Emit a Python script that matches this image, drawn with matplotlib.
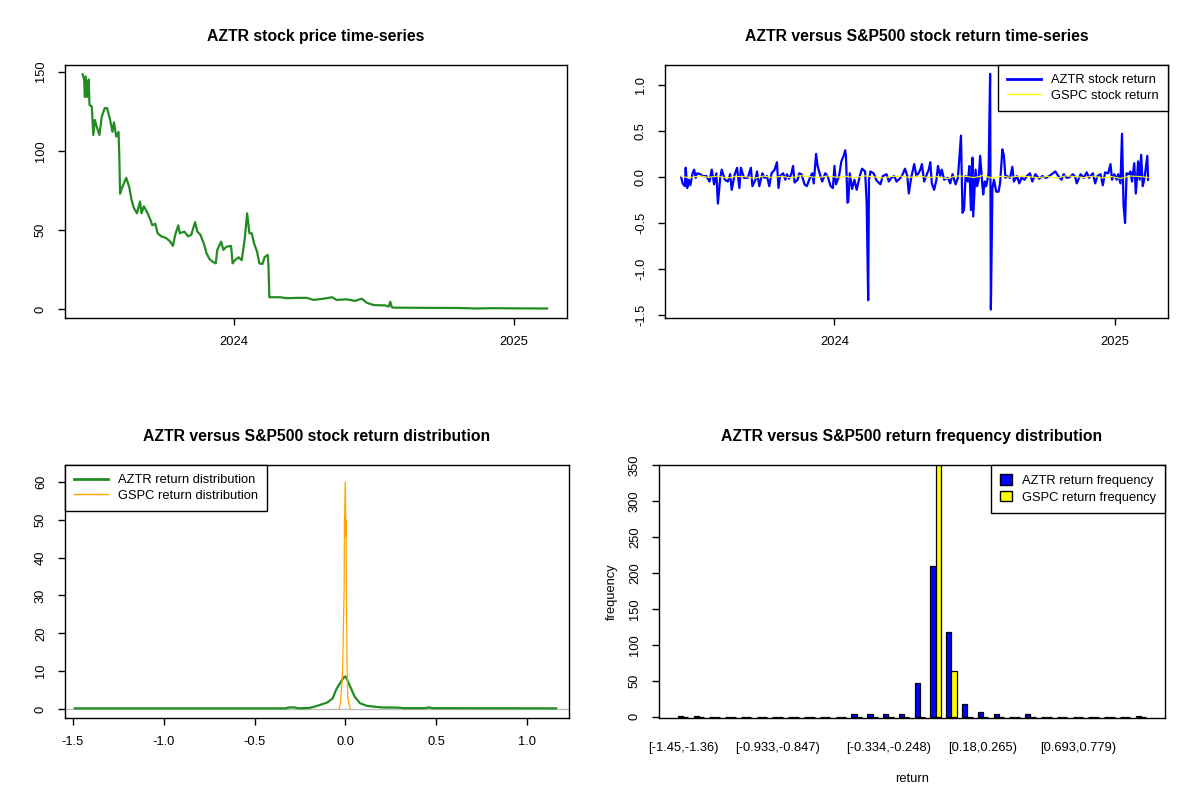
import numpy as np
import pandas as pd
import matplotlib
matplotlib.use('Agg')
import matplotlib.pyplot as plt
from matplotlib.patches import Patch
from matplotlib.lines import Line2D

plt.rcParams['font.family'] = ['Liberation Sans', 'DejaVu Sans']

#-----
# data (days counted from 2024-01-01)
price_day = [-198, -196, -195, -194, -192, -190, -189, -186, -184, -182, -180, -176, -173, -169,
             -166, -162, -159, -157, -154, -151, -150, -149, -147, -144, -141, -137, -134, -131,
             -127, -123, -121, -118, -113, -109, -107, -103, -100, -95, -89, -84, -80, -77, -73,
             -71, -65, -60, -56, -51, -48, -44, -39, -36, -32, -28, -24, -22, -17, -14, -10, -4,
             -2, 1, 6, 10, 14, 17, 20, 23, 26, 30, 33, 37, 40, 44, 45, 46, 60, 69, 82, 95, 104,
             117, 128, 134, 147, 158, 167, 173, 182, 191, 197, 202, 204, 206, 208, 252, 296, 317,
             339, 361, 383, 409]
price_val = [148.3, 145, 134, 147, 134, 145, 129, 128, 110, 119.5, 116, 110, 121.6, 127,
             127, 119.5, 112, 118, 109, 112, 96, 73, 76, 79.5, 83, 77, 69, 64,
             60.6, 68, 60.6, 65, 60.6, 56, 53, 54, 48, 46, 45, 43, 40, 47, 53,
             48, 49, 46, 47, 55, 49, 47, 40.6, 35.3, 31.6, 30, 29, 37.5, 42.7, 37.5, 39.5, 40,
             29, 31, 32.8, 31, 45, 60.6, 48, 48, 41.7, 36.4, 29, 28.6, 33, 34.3, 26, 7.6, 7.6, 7, 7.2, 7.2, 5.9,
             6.7, 7.6, 5.9, 6.3, 5.3, 6.7, 4.2, 2.7, 2.5, 2.5, 1.7, 4.8, 1.3, 1.05, 0.9, 0.8, 0.5,
             0.7, 0.6, 0.55, 0.5]

ret_day = [-200, -198, -195, -194, -192, -190, -188, -185, -183, -181, -179, -175, -172, -167,
           -163, -160, -157, -154, -152, -149, -147, -143, -139, -136, -134, -130, -127, -124,
           -122, -118, -113, -109, -107, -103, -101, -98, -94, -91, -88, -85, -82, -78, -75,
           -73, -71, -67, -64, -62, -59, -56, -54, -52, -48, -46, -43, -39, -36, -32, -29,
           -27, -24, -22, -19, -16, -12, -9, -5, -2, 0, 2, 6, 9, 12, 14, 15, 17, 18, 20, 23,
           26, 29, 33, 36, 40, 42, 44, 45, 47, 51, 55, 60, 63, 68, 71, 74, 78, 81, 86, 89, 92,
           95, 97, 100, 104, 107, 109, 112, 114, 117, 121, 123, 125, 127, 130, 133, 135, 138,
           140, 143, 148, 151, 154, 158, 161, 165, 167, 169, 171, 174, 176, 178, 180, 181, 184,
           186, 188, 190, 193, 194, 196, 198, 201, 203, 204, 206, 208, 211, 214, 216, 219, 221,
           223, 225, 229, 232, 234, 238, 241, 244, 248, 251, 255, 258, 262, 267, 271, 276, 280,
           285, 288, 292, 296, 299, 303, 307, 311, 314, 316, 321, 325, 329, 332, 337, 340, 343,
           347, 350, 353, 357, 360, 362, 365, 368, 370, 373, 375, 377, 379, 381, 384, 386, 388,
           391, 393, 395, 396, 398, 400, 402, 404, 405, 408, 409]
aztr_ret = [0.00, -0.07, -0.10, 0.10, -0.12, -0.03, -0.09, 0.04, 0.08, -0.01, 0.04, 0.03, 0.01, 0.01,
            -0.05, 0.08, -0.08, 0.04, -0.29, -0.01, 0.08, -0.03, -0.05, 0.03, -0.14, 0.03, 0.10, -0.12,
            0.10, -0.01, -0.01, 0.10, -0.10, -0.03, 0.06, -0.10, 0.04, -0.01, 0.01, -0.10, 0.04, 0.08, 0.16,
            -0.12, 0.01, 0.04, -0.03, 0.03, -0.02, 0.04, 0.12, -0.06, -0.03, 0.04, 0.03, -0.08, -0.10, -0.01, 0.04,
            -0.07, 0.25, 0.12, 0.03, -0.05, 0.04, 0.01, -0.10, -0.12, 0.12, -0.08, 0.01, 0.17, 0.23, 0.29, 0.23, -0.28, -0.27, 0.04, -0.13,
            -0.03, -0.14, 0.01, 0.09, 0.06, -0.28, -1.34, -0.03, 0.06, 0.04, -0.04, -0.08, 0.01, 0.03, -0.05, -0.01, 0.01, -0.05, -0.01, 0.03, 0.09,
            0.01, -0.18, -0.01, 0.14, 0.01, 0.03, 0.08, 0.14, -0.05, 0.04, 0.08, 0.16, -0.07, -0.14, -0.03, 0.12, 0.01,
            0.08, -0.03, -0.01, -0.07, 0.03, -0.08, -0.01, 0.45, -0.39, -0.36, 0.01, -0.05, 0.12, -0.36, 0.21, -0.43, 0.08,
            -0.10, -0.03, 0.23, -0.10, -0.19, -0.05, -0.10, 0.04, 1.12, -1.44, -0.12, -0.03, -0.16, -0.16, -0.07, 0.30, 0.23,
            -0.01, 0.01, -0.01, 0.11, -0.05, 0.01, -0.07, -0.01, -0.03, 0.01, 0.04, -0.05, 0.03, -0.02, 0.01, -0.01, 0.01,
            0.04, 0.06, 0.01, -0.03, 0.03, -0.01, 0.00, 0.03, 0.00, -0.07, 0.03, -0.01, 0.05, -0.01, 0.04, -0.07, 0.01,
            0.03, -0.09, 0.05, 0.04, 0.14, -0.03, 0.03, -0.03, 0.03, -0.07, 0.47, -0.30, -0.50, 0.04, 0.03, 0.06, -0.05,
            0.15, -0.18, 0.04, 0.17, -0.03, 0.24, -0.10, -0.03, 0.03, 0.23, -0.03]

gspc_ret = [0.005, -0.008, 0.012, -0.004, 0.009, -0.012, 0.006, 0.003, -0.015, 0.010, -0.006, 0.008,
            -0.010, 0.014, 0.004, -0.007, 0.011, -0.003, 0.007, -0.009, 0.012, 0.002, -0.011, 0.006,
            0.009, -0.005, 0.013, -0.008, 0.004, -0.018, 0.010, 0.007, -0.006, 0.015, -0.012, 0.008,
            -0.004, 0.011, 0.003, -0.009, 0.006, -0.014, 0.012, 0.005, -0.007, 0.009, -0.010, 0.004,
            -0.016, 0.010, 0.006, -0.005]

# density curves
aztr_dens_x = [-1.49, -0.33, -0.31, -0.28, -0.26, -0.20, -0.17, -0.14, -0.10, -0.07, -0.05, -0.03, -0.01,
               0.0, 0.01, 0.03, 0.05, 0.08, 0.12, 0.16, 0.20, 0.29, 0.32, 0.44, 0.46, 0.48, 1.16]
aztr_dens_y = [0.15, 0.15, 0.4, 0.4, 0.15, 0.25, 0.6, 1.05, 1.7, 2.8, 5.2, 6.8, 8.3,
               8.6, 7.7, 5.5, 3.3, 1.5, 0.8, 0.6, 0.4, 0.35, 0.2, 0.2, 0.4, 0.2, 0.15]
gspc_dens_x = [-0.035, -0.029, -0.020, -0.015, -0.011, -0.007, -0.0055, -0.0037, 0.0, 0.002, 0.0037,
               0.0055, 0.009, 0.013, 0.018, 0.026]
gspc_dens_y = [0, 1.1, 6, 10.8, 22, 32, 50, 52, 60, 45.7, 50, 30.7, 11.3, 3.3, 1.6, 0]

# frequency table, 30 return bins
aztr_freq = [1, 1, 0, 0, 0, 0, 0, 0, 0, 0, 0, 3, 3, 4, 4, 47, 210, 118, 17, 7, 3, 0, 3, 0, 0, 0, 0, 0, 0, 1]
gspc_freq = [0, 0, 0, 0, 0, 0, 0, 0, 0, 0, 0, 0, 0, 0, 0, 0, 359, 63, 0, 0, 0, 0, 0, 0, 0, 0, 0, 0, 0, 0]
hist_label_bins = [0, 6, 13, 19, 25]
hist_labels = ['[-1.45,-1.36)', '[-0.933,-0.847)', '[-0.334,-0.248)', '[0.18,0.265)', '[0.693,0.779)']

#-----
base = pd.Timestamp('2024-01-01')
price_dates = base + pd.to_timedelta(price_day, unit='D')
ret_dates = base + pd.to_timedelta(ret_day, unit='D')
gspc_dates = pd.date_range('2023-06-15', '2025-02-13', periods=len(gspc_ret))
xlim_dates = (pd.Timestamp('2023-05-25'), pd.Timestamp('2025-03-11'))
year_ticks = [pd.Timestamp('2024-01-01'), pd.Timestamp('2025-01-01')]

FS = 9.3
TFS = 11.3


def r_style(ax):
    for s in ax.spines.values():
        s.set_linewidth(1.0)
    ax.tick_params(direction='out', length=5, width=1, labelsize=FS, pad=8)


def set_yticks(ax, ticks, labels):
    ax.set_yticks(ticks, labels, rotation=90, va='center')


def r_legend(ax, handles, labels, loc, **kw):
    leg = ax.legend(handles=handles, labels=labels, loc=loc, fontsize=FS, borderaxespad=0,
                    fancybox=False, framealpha=1, borderpad=0.7, labelspacing=0.3, **kw)
    leg.get_frame().set_edgecolor('black')
    leg.get_frame().set_linewidth(1.0)
    return leg


fig = plt.figure(figsize=(12, 8), dpi=100)

# price time-series
ax1 = fig.add_axes([65/1200, 1-318/800, 502/1200, 253/800])
r_style(ax1)
ax1.plot(price_dates, price_val, color='forestgreen', lw=1.6)
ax1.set_xlim(xlim_dates)
ax1.set_ylim(-5.5, 154.2)
ax1.set_xticks(year_ticks, ['2024', '2025'])
set_yticks(ax1, [0, 50, 100, 150], ['0', '50', '100', '150'])
ax1.set_title('AZTR stock price time-series', fontsize=TFS, fontweight='bold', pad=17)

# return time-series
ax2 = fig.add_axes([665/1200, 1-318/800, 503/1200, 253/800])
r_style(ax2)
ax2.plot(ret_dates, aztr_ret, color='blue', lw=1.6)
ax2.plot(gspc_dates, gspc_ret, color='yellow', lw=0.8)
ax2.set_xlim(xlim_dates)
ax2.set_ylim(-1.533, 1.217)
ax2.set_xticks(year_ticks, ['2024', '2025'])
set_yticks(ax2, [-1.5, -1.0, -0.5, 0.0, 0.5, 1.0], ['-1.5', '-1.0', '-0.5', '0.0', '0.5', '1.0'])
ax2.set_title('AZTR versus S&P500 stock return time-series', fontsize=TFS, fontweight='bold', pad=17)
r_legend(ax2, [Line2D([], [], color='blue', lw=2), Line2D([], [], color='yellow', lw=1)],
         ['AZTR stock return', 'GSPC stock return'], 'upper right', handlelength=2.6)

# return distribution
ax3 = fig.add_axes([65/1200, 1-718/800, 504/1200, 253/800])
r_style(ax3)
ax3.axhline(0, color='#bebebe', lw=1)
ax3.plot(aztr_dens_x, aztr_dens_y, color='forestgreen', lw=1.6)
ax3.plot(gspc_dens_x, gspc_dens_y, color='orange', lw=0.9)
ax3.set_xlim(-1.544, 1.231)
ax3.set_ylim(-2.4, 64.5)
ax3.set_xticks([-1.5, -1.0, -0.5, 0.0, 0.5, 1.0], ['-1.5', '-1.0', '-0.5', '0.0', '0.5', '1.0'])
set_yticks(ax3, [0, 10, 20, 30, 40, 50, 60], ['0', '10', '20', '30', '40', '50', '60'])
ax3.set_title('AZTR versus S&P500 stock return distribution', fontsize=TFS, fontweight='bold', pad=17)
r_legend(ax3, [Line2D([], [], color='forestgreen', lw=2), Line2D([], [], color='orange', lw=1)],
         ['AZTR return distribution', 'GSPC return distribution'], 'upper left', handlelength=2.6)

# return frequency
ax4 = fig.add_axes([659/1200, 1-718/800, 506/1200, 253/800])
r_style(ax4)
left = np.arange(len(aztr_freq)) * 3 + 1
ax4.bar(left, aztr_freq, width=1, align='edge', color='blue', edgecolor='black', lw=0.9)
ax4.bar(left + 1, gspc_freq, width=1, align='edge', color='yellow', edgecolor='black', lw=0.9)
ax4.set_xlim(-2.56, 93.56)
ax4.set_ylim(-2, 350)
ax4.set_xticks([left[i] + 1 for i in hist_label_bins], hist_labels)
ax4.tick_params(axis='x', length=0, pad=17)
set_yticks(ax4, [0, 50, 100, 150, 200, 250, 300, 350], ['0', '50', '100', '150', '200', '250', '300', '350'])
ax4.set_xlabel('return', fontsize=FS, labelpad=14)
ax4.set_ylabel('frequency', fontsize=FS, labelpad=8)
ax4.set_title('AZTR versus S&P500 return frequency distribution', fontsize=TFS, fontweight='bold', pad=17)
r_legend(ax4, [Patch(facecolor='blue', edgecolor='black'), Patch(facecolor='yellow', edgecolor='black')],
         ['AZTR return frequency', 'GSPC return frequency'], 'upper right',
         handlelength=0.9, handleheight=0.9)

plt.savefig('out.png', dpi=100)
